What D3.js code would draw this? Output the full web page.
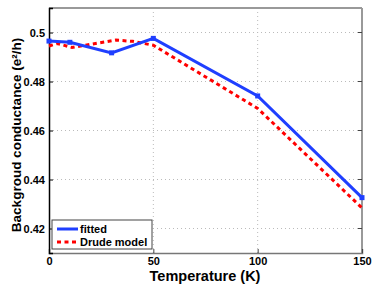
<!DOCTYPE html>
<html>
<head>
<meta charset="utf-8">
<script src="https://cdn.jsdelivr.net/npm/d3@7"></script>
<style>
  body { margin: 0; background: #fff; }
  text { font-family: "Liberation Sans", Arial, sans-serif; font-weight: bold; }
</style>
</head>
<body>
<div id="chart"></div>
<script>
// data
const temps = [0, 10, 30, 50, 100, 150];
const fitted = [0.4965, 0.4960, 0.4917, 0.4976, 0.4741, 0.4326];
const drudeT = [0, 4, 11, 20, 32, 40, 50, 100, 150];
const drude = [0.4945, 0.4955, 0.4939, 0.4952, 0.4969, 0.4964, 0.4948, 0.4690, 0.4284];
const xTicks = [0, 50, 100, 150];
const yTicks = [0.42, 0.44, 0.46, 0.48, 0.50];

const width = 374, height = 285;
const margin = {top: 8, right: 12, bottom: 32, left: 49};
const innerWidth = width - margin.left - margin.right;
const innerHeight = height - margin.top - margin.bottom;

const svg = d3.select('#chart').append('svg')
    .attr('width', width)
    .attr('height', height);

const g = svg.append('g')
    .attr('transform', `translate(${margin.left},${margin.top})`);

const x = d3.scaleLinear().domain([0, 150]).range([0, innerWidth]);
const y = d3.scaleLinear().domain([0.41, 0.51]).range([innerHeight, 0]);

// grid
g.append('g').selectAll('line').data(xTicks.slice(1, -1)).join('line')
    .attr('x1', d => x(d)).attr('x2', d => x(d))
    .attr('y1', 0).attr('y2', innerHeight)
    .attr('stroke', '#bbb').attr('stroke-dasharray', '1,3');
g.append('g').selectAll('line').data(yTicks).join('line')
    .attr('x1', 0).attr('x2', innerWidth)
    .attr('y1', d => y(d)).attr('y2', d => y(d))
    .attr('stroke', '#bbb').attr('stroke-dasharray', '1,3');

// box top/right
g.append('line').attr('x1', 0).attr('x2', innerWidth).attr('y1', 0).attr('y2', 0)
    .attr('stroke', '#999').attr('stroke-width', 2);
g.append('line').attr('x1', innerWidth).attr('x2', innerWidth).attr('y1', 0).attr('y2', innerHeight)
    .attr('stroke', '#999').attr('stroke-width', 2);
// inner ticks on right
g.append('g').selectAll('line').data(yTicks).join('line')
    .attr('x1', innerWidth - 4).attr('x2', innerWidth)
    .attr('y1', d => y(d)).attr('y2', d => y(d))
    .attr('stroke', '#444');

// axes
const xAxis = g.append('g')
    .attr('transform', `translate(0,${innerHeight})`)
    .call(d3.axisBottom(x).tickValues(xTicks).tickSize(-4).tickPadding(4).tickFormat(d3.format('d')));
xAxis.select('.domain').attr('stroke', '#777').attr('stroke-width', 1.5);
xAxis.selectAll('.tick line').attr('stroke', '#444');
xAxis.selectAll('text').attr('font-size', 11).attr('fill', '#000');

const yAxis = g.append('g')
    .call(d3.axisLeft(y).tickValues(yTicks).tickSize(-4).tickPadding(4)
        .tickFormat(d => d === 0.5 ? '0.5' : d3.format('.2f')(d)));
yAxis.select('.domain').attr('stroke', '#000').attr('stroke-width', 1.5);
yAxis.selectAll('.tick line').attr('stroke', '#000');
yAxis.selectAll('text').attr('font-size', 11).attr('fill', '#000');

// lines
const line = d3.line().x(d => x(d[0])).y(d => y(d[1]));

g.append('path')
    .datum(drudeT.map((t, i) => [t, drude[i]]))
    .attr('d', line)
    .attr('fill', 'none')
    .attr('stroke', '#ff0000')
    .attr('stroke-width', 3)
    .attr('stroke-dasharray', '4,3.5');

g.append('path')
    .datum(temps.map((t, i) => [t, fitted[i]]))
    .attr('d', line)
    .attr('fill', 'none')
    .attr('stroke', '#1f3fff')
    .attr('stroke-width', 3);

g.append('g').selectAll('rect').data(temps).join('rect')
    .attr('x', (d) => x(d) - 2.5)
    .attr('y', (d, i) => y(fitted[i]) - 2.5)
    .attr('width', 5).attr('height', 5)
    .attr('fill', '#1f3fff');

// legend
const lg = g.append('g').attr('transform', 'translate(3,212)');
lg.append('rect').attr('width', 100).attr('height', 29)
    .attr('fill', '#fff').attr('stroke', '#444').attr('stroke-width', 1);
lg.append('line').attr('x1', 5).attr('x2', 26).attr('y1', 9).attr('y2', 9)
    .attr('stroke', '#1f3fff').attr('stroke-width', 3);
lg.append('text').attr('x', 28).attr('y', 13).attr('font-size', 11).text('fitted');
lg.append('line').attr('x1', 5).attr('x2', 26).attr('y1', 22).attr('y2', 22)
    .attr('stroke', '#ff0000').attr('stroke-width', 3).attr('stroke-dasharray', '4,3.5');
lg.append('text').attr('x', 28).attr('y', 26).attr('font-size', 11).text('Drude model');

// axis labels
svg.append('text')
    .attr('x', 205).attr('y', 281)
    .attr('text-anchor', 'middle').attr('font-size', 14.5)
    .text('Temperature (K)');

svg.append('text')
    .attr('transform', 'translate(21,135) rotate(-90)')
    .attr('text-anchor', 'middle').attr('font-size', 13.5)
    .text('Backgroud conductance (e²/h)');
</script>
</body>
</html>
